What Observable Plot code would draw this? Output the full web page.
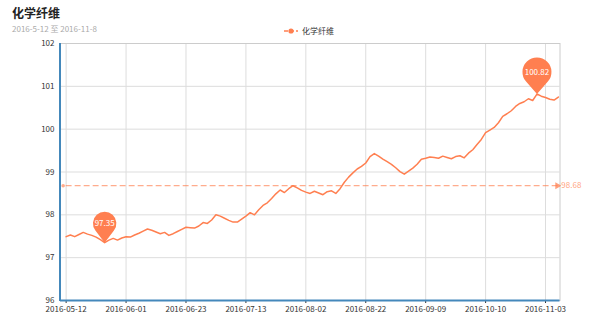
<!DOCTYPE html>
<html><head><meta charset="utf-8">
<script src="https://cdn.jsdelivr.net/npm/d3@7"></script>
<script src="https://cdn.jsdelivr.net/npm/@observablehq/plot@0.6"></script>
<style>
body{margin:0;background:#fff;font-family:"Noto Sans CJK SC","Noto Sans",sans-serif;}
#wrap{position:relative;width:600px;height:323px;overflow:hidden;}
#wrap svg.chart{position:absolute;left:0;top:0;}
.t{position:absolute;white-space:nowrap;line-height:1;}
</style></head><body>
<div id="wrap">
<div id="plot"></div>
<div class="t" style="left:12px;top:7px;font-size:12px;font-weight:bold;color:#222">化学纤维</div>
<div class="t" style="left:12px;top:25px;font-size:8px;color:#aaa">2016-5-12 至 2016-11-8</div>
<div class="t" style="left:284px;top:27px;font-size:8px;color:#333;display:flex;align-items:center">
  <svg width="14" height="8"><line x1="0" y1="4" x2="14" y2="4" stroke="#ff7f50" stroke-width="1.5" stroke-dasharray="4,2"/><circle cx="7" cy="4" r="2.6" fill="#ff7f50"/></svg><span style="margin-left:4px">化学纤维</span>
</div>
</div>
<script>
const dates = [
"2016-05-12","2016-05-13","2016-05-16","2016-05-17","2016-05-18","2016-05-19","2016-05-20","2016-05-23","2016-05-24","2016-05-25","2016-05-26","2016-05-27","2016-05-30","2016-05-31",
"2016-06-01","2016-06-02","2016-06-03","2016-06-06","2016-06-07","2016-06-08","2016-06-13","2016-06-14","2016-06-15","2016-06-16","2016-06-17","2016-06-20","2016-06-21","2016-06-22",
"2016-06-23","2016-06-24","2016-06-27","2016-06-28","2016-06-29","2016-06-30","2016-07-01","2016-07-04","2016-07-05","2016-07-06","2016-07-07","2016-07-08","2016-07-11","2016-07-12",
"2016-07-13","2016-07-14","2016-07-15","2016-07-18","2016-07-19","2016-07-20","2016-07-21","2016-07-22","2016-07-25","2016-07-26","2016-07-27","2016-07-28","2016-07-29","2016-08-01",
"2016-08-02","2016-08-03","2016-08-04","2016-08-05","2016-08-08","2016-08-09","2016-08-10","2016-08-11","2016-08-12","2016-08-15","2016-08-16","2016-08-17","2016-08-18","2016-08-19",
"2016-08-22","2016-08-23","2016-08-24","2016-08-25","2016-08-26","2016-08-29","2016-08-30","2016-08-31","2016-09-01","2016-09-02","2016-09-05","2016-09-06","2016-09-07","2016-09-08",
"2016-09-09","2016-09-12","2016-09-13","2016-09-14","2016-09-19","2016-09-20","2016-09-21","2016-09-22","2016-09-23","2016-09-26","2016-09-27","2016-09-28","2016-09-29","2016-09-30",
"2016-10-10","2016-10-11","2016-10-12","2016-10-13","2016-10-17","2016-10-18","2016-10-19","2016-10-20","2016-10-24","2016-10-25","2016-10-26","2016-10-27","2016-10-31","2016-11-02",
"2016-11-03","2016-11-04","2016-11-07","2016-11-08"];
const values = [
97.49,97.53,97.49,97.54,97.59,97.55,97.52,97.48,97.42,97.35,97.41,97.45,97.41,97.46,
97.49,97.48,97.53,97.57,97.62,97.67,97.64,97.60,97.56,97.59,97.52,97.56,97.61,97.66,
97.71,97.70,97.69,97.74,97.82,97.80,97.88,98.00,97.97,97.92,97.87,97.83,97.83,97.90,
97.97,98.05,98.00,98.12,98.22,98.28,98.38,98.49,98.58,98.52,98.61,98.68,98.63,98.57,
98.53,98.50,98.55,98.51,98.47,98.54,98.56,98.50,98.61,98.76,98.88,98.98,99.07,99.13,
99.21,99.36,99.43,99.37,99.30,99.24,99.18,99.10,99.01,98.95,99.02,99.09,99.18,99.30,
99.32,99.35,99.34,99.32,99.37,99.34,99.31,99.36,99.38,99.33,99.44,99.52,99.64,99.76,
99.92,99.98,100.04,100.15,100.30,100.36,100.43,100.53,100.60,100.64,100.71,100.67,100.82,100.77,
100.74,100.70,100.68,100.75];
const xTicks = ["2016-05-12","2016-06-01","2016-06-23","2016-07-13","2016-08-02","2016-08-22","2016-09-09","2016-10-10","2016-11-03"];
const yTicks = [96,97,98,99,100,101,102];
const meanValue = 98.68;
const seriesColor = "#ff7f50";

const data = dates.map((d, i) => ({date: d, value: values[i]}));
const minI = d3.minIndex(values), maxI = d3.maxIndex(values);
const pins = [
  {date: dates[minI], value: values[minI], label: values[minI].toFixed(2), r: 11.7},
  {date: dates[maxI], value: values[maxI], label: values[maxI].toFixed(2), r: 14.5}
];
const pinSymbol = {
  draw(ctx, size) {
    const R = Math.sqrt(size / Math.PI);
    const h = R + 7.5;
    const a = Math.acos(R / h);
    ctx.moveTo(0, 0);
    ctx.lineTo(-R * Math.sin(a), -h + R * Math.cos(a));
    ctx.arc(0, -h, R, Math.PI / 2 + a, Math.PI * 2 + Math.PI / 2 - a, false);
    ctx.closePath();
  }
};
const meanData = [{date: dates[0], value: meanValue}, {date: dates[dates.length - 1], value: meanValue}];

const leftAxis = (index, scales, values, dims) => {
  const l = document.createElementNS("http://www.w3.org/2000/svg", "line");
  l.setAttribute("x1", dims.marginLeft); l.setAttribute("x2", dims.marginLeft);
  l.setAttribute("y1", dims.marginTop); l.setAttribute("y2", dims.height - dims.marginBottom + 1);
  l.setAttribute("stroke", "#48b"); l.setAttribute("stroke-width", 2);
  return l;
};

const chart = Plot.plot({
  width: 600, height: 323,
  marginLeft: 60, marginRight: 40.5, marginTop: 43, marginBottom: 23,
  style: {fontFamily: '"Noto Sans CJK SC","Noto Sans",sans-serif', fontSize: "8px", color: "#333", background: "transparent", overflow: "visible"},
  x: {type: "point", domain: dates, range: [63.5, 560], ticks: xTicks, tickSize: 3, tickPadding: 3, label: null},
  y: {domain: [96, 102], ticks: yTicks, tickFormat: d3.format("d"), tickSize: 0, tickPadding: 6, label: null},
  marks: [
    Plot.ruleY(yTicks, {stroke: "#ddd"}),
    Plot.ruleX(xTicks, {stroke: "#ddd"}),
    Plot.frame({stroke: "#ccc"}),
    Plot.ruleY([96], {stroke: "#48b", strokeWidth: 2}),
    leftAxis,
    Plot.line(meanData, {x: "date", y: "value", stroke: seriesColor, strokeOpacity: 0.65, strokeWidth: 1.2, strokeDasharray: "5,4"}),
    Plot.dot([meanData[0]], {x: "date", y: "value", r: 1.8, fill: seriesColor, fillOpacity: 0.65, dx: -3}),
    Plot.dot([meanData[1]], {x: "date", y: "value", symbol: "triangle", rotate: 90, r: 2.6, fill: seriesColor, fillOpacity: 0.75, dx: -1}),
    Plot.text([meanData[1]], {x: "date", y: "value", text: d => d.value.toFixed(2), dx: 3, textAnchor: "start", fill: seriesColor, fillOpacity: 0.75, fontSize: 8}),
    Plot.line(data, {x: "date", y: "value", stroke: seriesColor, strokeWidth: 1.5}),
    ...pins.flatMap(p => [
      Plot.dot([p], {x: "date", y: "value", symbol: pinSymbol, r: p.r, fill: seriesColor, stroke: "none"}),
      Plot.text([p], {x: "date", y: "value", text: "label", dy: -(p.r + 7.5), fill: "white", fontSize: 8})
    ])
  ]
});
chart.classList.add("chart");
document.getElementById("plot").appendChild(chart);
</script>
</body></html>
